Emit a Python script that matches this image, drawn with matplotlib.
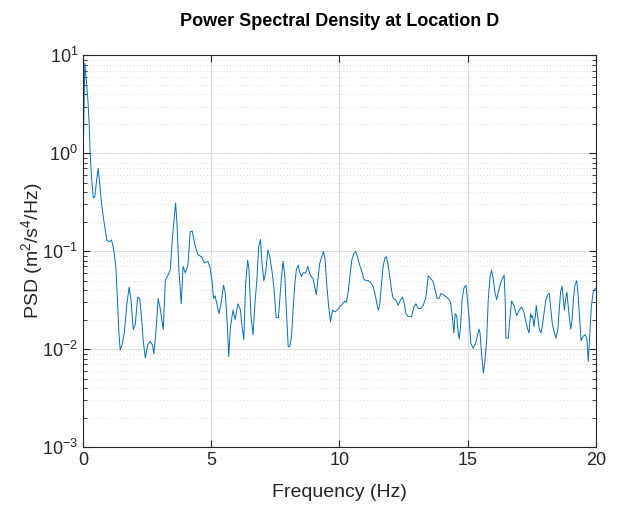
import numpy as np
import matplotlib
matplotlib.use('Agg')
import matplotlib.pyplot as plt
from matplotlib.ticker import LogLocator, NullFormatter

plt.rcParams['font.family'] = ['Liberation Sans', 'DejaVu Sans']
plt.rcParams['mathtext.fontset'] = 'custom'
plt.rcParams['mathtext.rm'] = 'Liberation Sans'
plt.rcParams['mathtext.it'] = 'Liberation Sans:italic'
plt.rcParams['mathtext.bf'] = 'Liberation Sans:bold'

# values
freq = [0.00, 0.02, 0.07, 0.15, 0.20, 0.24, 0.28, 0.33, 0.40, 0.46, 0.53, 0.59, 0.64, 0.72,
        0.83, 0.93, 1.02, 1.11, 1.19, 1.28, 1.35, 1.40, 1.45, 1.52, 1.61, 1.71, 1.80, 1.87,
        1.96, 2.04, 2.13, 2.21, 2.28, 2.35, 2.43, 2.52, 2.62, 2.71, 2.76, 2.84, 2.93, 3.01,
        3.13, 3.21, 3.30, 3.40, 3.49, 3.56, 3.61, 3.66, 3.74,
        3.83, 3.90, 3.99, 4.09, 4.18, 4.26, 4.35, 4.48, 4.61, 4.74, 4.87, 4.96, 5.04, 5.09,
        5.15, 5.22, 5.30, 5.39, 5.48, 5.55, 5.63, 5.68, 5.75, 5.85, 5.93, 6.04, 6.14, 6.20,
        6.27, 6.34, 6.42, 6.47, 6.55, 6.63, 6.71, 6.78, 6.85, 6.92, 6.98, 7.05, 7.12, 7.21,
        7.28, 7.36, 7.44, 7.53, 7.62,
        7.74, 7.80, 7.87, 7.93, 8.00, 8.06, 8.13, 8.19, 8.26, 8.32, 8.39, 8.45, 8.52, 8.58,
        8.68, 8.77, 8.86, 8.97, 9.03, 9.10, 9.17, 9.23, 9.31, 9.38, 9.44, 9.50, 9.58, 9.65,
        9.73, 9.82, 9.91, 10.01, 10.12, 10.21, 10.27, 10.35, 10.42, 10.48, 10.56, 10.64,
        10.71, 10.79, 10.88, 10.95, 11.03, 11.12, 11.21, 11.31, 11.39, 11.47, 11.52,
        11.57, 11.64, 11.70, 11.77, 11.83, 11.90, 11.96, 12.03, 12.09, 12.19, 12.29, 12.38,
        12.46, 12.53, 12.59, 12.68, 12.81, 12.90, 12.98, 13.07, 13.16, 13.27, 13.37, 13.46,
        13.55, 13.65, 13.73, 13.81, 13.89, 13.95, 14.04, 14.18, 14.27, 14.33, 14.40, 14.46,
        14.51, 14.57, 14.63, 14.67, 14.72, 14.78, 14.85, 14.93, 14.98, 15.05, 15.12, 15.21,
        15.31, 15.37, 15.44,
        15.48, 15.54, 15.61, 15.67, 15.74, 15.80, 15.87, 15.93, 16.00, 16.06, 16.13, 16.19,
        16.28, 16.36, 16.42, 16.46, 16.49, 16.58, 16.64, 16.71, 16.80, 16.91, 17.01, 17.10,
        17.19, 17.27, 17.34, 17.39, 17.45, 17.49, 17.53, 17.58, 17.64, 17.67, 17.73, 17.79,
        17.86, 17.92, 17.99, 18.05, 18.12, 18.18, 18.23, 18.30, 18.38, 18.44, 18.51, 18.57,
        18.62, 18.68, 18.73, 18.77, 18.84, 18.87, 18.92, 18.96, 19.02, 19.07, 19.12, 19.18,
        19.25, 19.31, 19.38, 19.42, 19.50, 19.59, 19.65, 19.70, 19.77, 19.82, 19.89, 19.96,
        20.00]
psd = [1.6, 1.54, 8.3, 4.8, 3.2, 2.0, 1.0, 0.58, 0.35, 0.36, 0.53, 0.70, 0.53, 0.31,
       0.19, 0.13, 0.125, 0.13, 0.107, 0.070, 0.029, 0.0146, 0.0098, 0.011, 0.0146, 0.029, 0.043, 0.032,
       0.0158, 0.018, 0.034, 0.033, 0.0215, 0.012, 0.0081, 0.011, 0.012, 0.011, 0.009, 0.0146, 0.033, 0.026,
       0.0158, 0.051, 0.056, 0.064, 0.14, 0.226, 0.31, 0.20, 0.064,
       0.029, 0.070, 0.060, 0.072, 0.158, 0.16, 0.12, 0.092, 0.088, 0.076, 0.079, 0.067, 0.047, 0.033,
       0.035, 0.029, 0.023, 0.030, 0.045, 0.037, 0.017, 0.0084, 0.017, 0.025, 0.020, 0.029, 0.025, 0.017,
       0.0125, 0.047, 0.081, 0.065, 0.0215, 0.014, 0.031, 0.051, 0.111, 0.132, 0.075, 0.050, 0.060, 0.103,
       0.088, 0.065, 0.044, 0.021, 0.021,
       0.055, 0.079, 0.055, 0.025, 0.0106, 0.0106, 0.0134, 0.025, 0.047, 0.065, 0.072, 0.061, 0.055, 0.060,
       0.060, 0.070, 0.057, 0.052, 0.044, 0.036, 0.055, 0.075, 0.088, 0.099, 0.081, 0.047, 0.027, 0.019,
       0.025, 0.024, 0.025, 0.027, 0.029, 0.031, 0.030, 0.040, 0.060, 0.081, 0.095, 0.099,
       0.085, 0.072, 0.061, 0.052, 0.050, 0.050, 0.048, 0.044, 0.036, 0.028, 0.025,
       0.029, 0.047, 0.070, 0.085, 0.088, 0.072, 0.055, 0.040, 0.033, 0.032, 0.028, 0.032,
       0.034, 0.029, 0.023, 0.0215, 0.0215, 0.027, 0.029, 0.026, 0.026, 0.028, 0.034, 0.056,
       0.053, 0.049, 0.040, 0.033, 0.033, 0.037, 0.036, 0.034, 0.032, 0.030, 0.0215, 0.0146,
       0.023, 0.022, 0.0146, 0.0127, 0.017, 0.032, 0.042, 0.045, 0.034, 0.0215, 0.0115, 0.0102,
       0.0115, 0.0135, 0.016,
       0.0146, 0.009, 0.0057, 0.0075, 0.0125, 0.032, 0.055, 0.064, 0.051, 0.038, 0.032, 0.038,
       0.047, 0.053, 0.057, 0.032, 0.013, 0.013, 0.020, 0.031, 0.028, 0.022, 0.025, 0.027,
       0.024, 0.019, 0.016, 0.0146, 0.023, 0.021, 0.022, 0.017, 0.022, 0.028, 0.0215, 0.016,
       0.0146, 0.018, 0.025, 0.032, 0.036, 0.037, 0.027, 0.018, 0.0146, 0.013, 0.0157, 0.025,
       0.038, 0.044, 0.032, 0.025, 0.036, 0.038, 0.027, 0.0215, 0.016, 0.020, 0.032, 0.045,
       0.050, 0.034, 0.018, 0.0122, 0.0135, 0.014, 0.0125, 0.0075, 0.0157, 0.027, 0.038, 0.041,
       0.042]

fig = plt.figure(figsize=(6.26, 5.08), dpi=100)
ax = fig.add_axes([0.1326, 0.12, 0.8194, 0.771])
ax.semilogy(freq, psd, color='#0072BD', linewidth=0.7)

ax.set_xlim(0, 20)
ax.set_ylim(1e-3, 1e1)
ax.set_xticks([0, 5, 10, 15, 20])
ax.yaxis.set_major_locator(LogLocator(base=10, numticks=10))
ax.yaxis.set_minor_locator(LogLocator(base=10, subs=np.arange(2, 10), numticks=20))
ax.yaxis.set_minor_formatter(NullFormatter())

ax.grid(True, which='major', color='#dcdcdc', linewidth=0.8, linestyle='-')
ax.grid(True, which='minor', axis='y', color='#d0d0d0', linewidth=0.6, linestyle=(0, (1, 3)))
ax.set_axisbelow(True)

ax.tick_params(which='both', direction='in', top=True, right=True, colors='#262626',
               labelsize=13)
ax.tick_params(which='major', length=5, width=0.8)
ax.tick_params(which='minor', length=3, width=0.6)
for s in ax.spines.values():
    s.set_color('#262626')
    s.set_linewidth(0.8)

ax.set_xlabel('Frequency (Hz)', fontsize=14, color='#262626', labelpad=11)
ax.set_ylabel('PSD (m$^2$/s$^4$/Hz)', fontsize=14, color='#262626', labelpad=-2)
ax.set_title('Power Spectral Density at Location D', fontsize=13, fontweight='bold', pad=21)

fig.savefig('out.png', dpi=100)
